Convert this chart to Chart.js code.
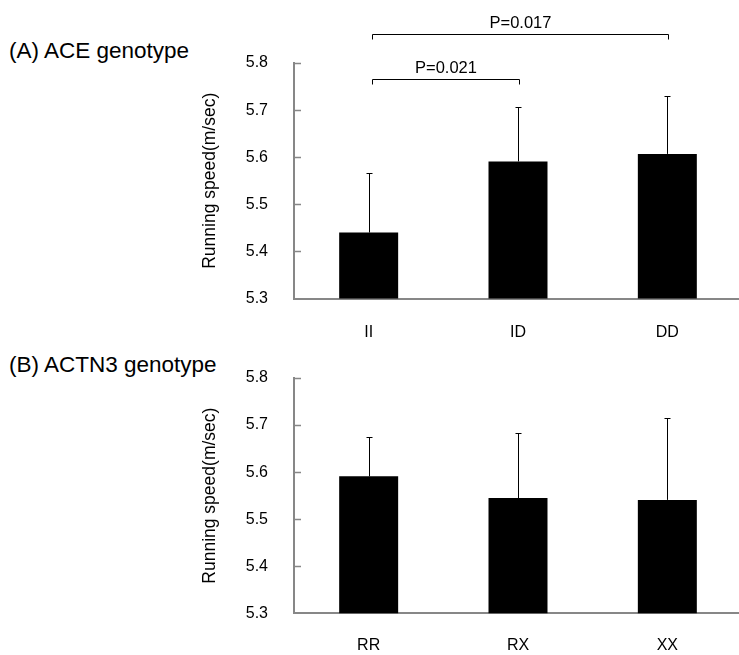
<!DOCTYPE html>
<html>
<head>
<meta charset="utf-8">
<script src="https://cdn.jsdelivr.net/npm/chart.js@4.4.1/dist/chart.umd.min.js"></script>
<style>
    html, body { margin: 0; padding: 0; background: #fff; overflow: hidden; width: 739px; height: 655px; }
    .panel-title {
        position: absolute; left: 9px; white-space: nowrap; color: #000;
        font-family: "Liberation Sans", Arial, sans-serif; font-size: 22.5px; line-height: 1;
    }
    canvas { position: absolute; left: 0; }
</style>
</head>
<body>
<div class="panel-title" style="top:40px">(A) ACE genotype</div>
<div class="panel-title" style="top:354px">(B) ACTN3 genotype</div>
<canvas id="chartA" width="742" height="345" style="top:0"></canvas>
<canvas id="chartB" width="742" height="335" style="top:320px"></canvas>
<script>
// ============================================
// DATA
// ============================================
const aceGenotypes = ['II', 'ID', 'DD'];
const aceMeans = [5.44, 5.591, 5.607];
const aceSD = [0.127, 0.116, 0.122];
const aceBrackets = [
    { from: 0, to: 1, level: 5.765, label: 'P=0.021' },
    { from: 0, to: 2, level: 5.861, label: 'P=0.017' }
];

const actnGenotypes = ['RR', 'RX', 'XX'];
const actnMeans = [5.591, 5.545, 5.541];
const actnSD = [0.083, 0.139, 0.175];

const yMin = 5.3;
const yMax = 5.8;
const yStep = 0.1;
const yTitle = 'Running speed(m/sec)';

// ============================================
// STYLE
// ============================================
const FONT = '"Liberation Sans", Arial, sans-serif';
const AXIS_GREY = '#878787';

// error bars, inward y ticks, significance brackets
const extrasPlugin = {
    id: 'extras',
    afterDatasetsDraw(chart, args, opts) {
        const ctx = chart.ctx;
        const x = chart.scales.x;
        const y = chart.scales.y;
        const area = chart.chartArea;
        ctx.save();

        // inward tick marks on the y axis
        ctx.strokeStyle = AXIS_GREY;
        ctx.lineWidth = 1.5;
        y.ticks.forEach(t => {
            if (t.value <= yMin) return;
            const py = Math.round(y.getPixelForValue(t.value)) + 0.5;
            ctx.beginPath();
            ctx.moveTo(area.left, py);
            ctx.lineTo(area.left + 7, py);
            ctx.stroke();
        });

        // upward error bars
        ctx.strokeStyle = '#000';
        ctx.lineWidth = 1;
        opts.means.forEach((m, i) => {
            const px = Math.round(x.getPixelForValue(i)) + 0.5;
            const top = Math.round(y.getPixelForValue(m + opts.sd[i])) + 0.5;
            const base = y.getPixelForValue(m);
            ctx.beginPath();
            ctx.moveTo(px, base);
            ctx.lineTo(px, top);
            ctx.moveTo(px - 3, top);
            ctx.lineTo(px + 3, top);
            ctx.stroke();
        });

        // brackets
        ctx.fillStyle = '#000';
        ctx.font = '16.5px ' + FONT;
        ctx.textAlign = 'center';
        ctx.textBaseline = 'alphabetic';
        (opts.brackets || []).forEach(b => {
            const x1 = Math.round(x.getPixelForValue(b.from)) + 3.5;
            const x2 = Math.round(x.getPixelForValue(b.to)) + 1.5;
            const py = Math.round(y.getPixelForValue(b.level)) + 0.5;
            ctx.beginPath();
            ctx.moveTo(x1, py + 5);
            ctx.lineTo(x1, py);
            ctx.lineTo(x2, py);
            ctx.lineTo(x2, py + 5);
            ctx.stroke();
            ctx.fillText(b.label, (x1 + x2) / 2, py - 6.5);
        });
        ctx.restore();
    }
};

function makeChart(id, labels, means, sd, brackets, geom) {
    return new Chart(document.getElementById(id), {
        type: 'bar',
        data: {
            labels: labels,
            datasets: [{
                data: means,
                backgroundColor: '#000',
                borderWidth: 0,
                categoryPercentage: 1,
                barPercentage: 0.395
            }]
        },
        options: {
            responsive: false,
            animation: false,
            layout: { padding: { left: 200, top: geom.top, right: 0, bottom: 0 } },
            plugins: {
                legend: { display: false },
                tooltip: { enabled: false },
                extras: { means: means, sd: sd, brackets: brackets }
            },
            scales: {
                x: {
                    grid: { display: false },
                    border: { display: true, color: AXIS_GREY, width: 2 },
                    ticks: { color: '#000', padding: geom.labelPad, font: { family: FONT, size: 16 } },
                    afterFit: s => { s.height = geom.xHeight; }
                },
                y: {
                    min: yMin,
                    max: yMax,
                    grid: { display: false },
                    border: { display: true, color: AXIS_GREY, width: 2 },
                    ticks: {
                        stepSize: yStep,
                        color: '#000',
                        padding: 18,
                        font: { family: FONT, size: 16 },
                        callback: v => v.toFixed(1)
                    },
                    title: {
                        display: true,
                        text: yTitle,
                        color: '#000',
                        padding: 0,
                        font: { family: FONT, size: 17.5 }
                    },
                    afterFit: s => { s.width = 94; }
                }
            }
        },
        plugins: [extrasPlugin]
    });
}

makeChart('chartA', aceGenotypes, aceMeans, aceSD, aceBrackets, { top: 63, xHeight: 46.5, labelPad: 16.5 });
makeChart('chartB', actnGenotypes, actnMeans, actnSD, [], { top: 58, xHeight: 41.7, labelPad: 15 });
</script>
</body>
</html>
